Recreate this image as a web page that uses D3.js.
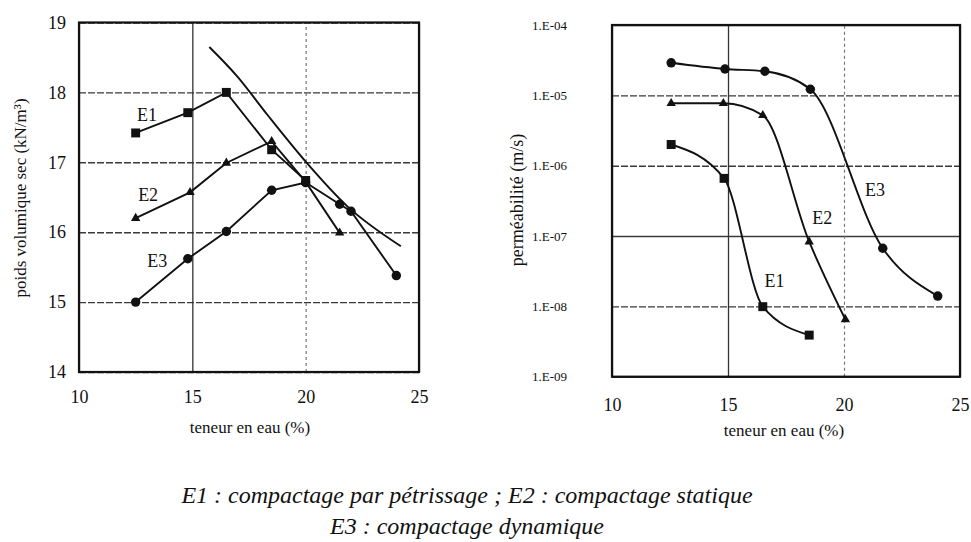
<!DOCTYPE html>
<html>
<head>
<meta charset="utf-8">
<script src="https://d3js.org/d3.v7.min.js"></script>
<style>
  body { margin: 0; background: #fff; }
  text { font-family: "Liberation Serif", "DejaVu Serif", serif; fill: #111; }
</style>
</head>
<body>
<svg id="chart" width="971" height="542"></svg>
<script>
// tick values
var waterTicks = [10, 15, 20, 25];
var densityTicks = [14, 15, 16, 17, 18, 19];
var permTicks = [1e-9, 1e-8, 1e-7, 1e-6, 1e-5, 1e-4];
var permLabels = ["1.E-09", "1.E-08", "1.E-07", "1.E-06", "1.E-05", "1.E-04"];
var seriesNames = ["E1", "E2", "E3"];

// left chart: poids volumique sec vs teneur en eau
var e1Water = [12.5, 14.8, 16.5, 18.5, 20.0];
var e1Density = [17.42, 17.71, 18.0, 17.18, 16.74];
var e2Water = [12.5, 14.9, 16.5, 18.5, 20.0, 21.5];
var e2Density = [16.2, 16.57, 16.99, 17.3, 16.72, 15.99];
var e3Water = [12.5, 14.8, 16.5, 18.5, 20.0, 21.5, 22.0, 24.0];
var e3Density = [15.0, 15.62, 16.01, 16.6, 16.71, 16.4, 16.3, 15.38];
var satWater = [15.75, 16.98, 18.31, 20.0, 21.84, 24.2];
var satDensity = [18.65, 18.23, 17.68, 17.01, 16.37, 15.8];

// right chart: permeabilite vs teneur en eau
var k1Water = [12.55, 14.83, 16.5, 18.5];
var k1Perm = [2.0e-6, 6.6e-7, 9.9e-9, 3.9e-9];
var k2Water = [12.55, 14.8, 16.5, 18.5, 20.06];
var k2Perm = [7.7e-6, 7.7e-6, 5.2e-6, 8.3e-8, 6.5e-9];
var k3Water = [12.55, 14.87, 16.59, 18.55, 21.67, 24.04];
var k3Perm = [2.9e-5, 2.37e-5, 2.2e-5, 1.22e-5, 6.7e-8, 1.4e-8];

var captionLines = [
  "E1 : compactage par pétrissage ; E2 : compactage statique",
  "E3 : compactage dynamique"
];

var svg = d3.select("#chart");
svg.append("rect").attr("width", 971).attr("height", 542).attr("fill", "#fff");

function zip(xs, ys) { return xs.map(function (x, i) { return [x, ys[i]]; }); }

var shapes = [d3.symbolSquare, d3.symbolTriangle, d3.symbolCircle];
var shapeSize = [80, 38, 70];

function drawPanel(opt) {
  var x = opt.x, y = opt.y;
  var g = svg.append("g");
  var x0 = x.range()[0], x1 = x.range()[1];
  var yb = y.range()[0], yt = y.range()[1];

  // horizontal grid
  g.append("g")
    .attr("transform", "translate(" + x0 + ",0)")
    .call(d3.axisLeft(y).tickValues(opt.yTicks).tickSize(-(x1 - x0)).tickFormat(""))
    .call(function (a) {
      a.select(".domain").remove();
      a.selectAll("line")
        .attr("stroke", "#3a3a3a")
        .attr("stroke-width", 1.4)
        .attr("stroke-dasharray", function (d, i) { return opt.hDash(d, i); });
    });

  // vertical grid
  g.append("g")
    .attr("transform", "translate(0," + yb + ")")
    .call(d3.axisBottom(x).tickValues(waterTicks).tickSize(-(yb - yt)).tickFormat(""))
    .call(function (a) {
      a.select(".domain").remove();
      a.selectAll("line")
        .attr("stroke", function (d) { return d == 20 ? "#777" : "#333"; })
        .attr("stroke-width", function (d) { return d == 20 ? 1.2 : 1.3; })
        .attr("stroke-dasharray", function (d) { return d == 20 ? "3,3" : null; });
    });

  // frame
  g.append("rect")
    .attr("x", x0).attr("y", yt)
    .attr("width", x1 - x0).attr("height", yb - yt)
    .attr("fill", "none").attr("stroke", "#111").attr("stroke-width", 2.2);

  // tick labels
  g.append("g")
    .attr("transform", "translate(" + (x0 - opt.yLabelGap) + ",0)")
    .call(d3.axisLeft(y).tickValues(opt.yTicks).tickSize(0).tickFormat(opt.yFormat))
    .call(function (a) {
      a.select(".domain").remove();
      a.selectAll("text")
        .style("font-size", opt.yFont + "px")
        .attr("fill", "#111");
    });

  g.append("g")
    .attr("transform", "translate(0," + (yb + opt.xLabelGap) + ")")
    .call(d3.axisBottom(x).tickValues(waterTicks).tickSize(0).tickFormat(d3.format("d")))
    .call(function (a) {
      a.select(".domain").remove();
      a.selectAll("text")
        .style("font-size", "18px")
        .attr("fill", "#111");
    });

  // axis titles
  g.append("text")
    .attr("transform", "translate(" + opt.yTitlePos[0] + "," + opt.yTitlePos[1] + ") rotate(-90)")
    .attr("text-anchor", "middle")
    .attr("dominant-baseline", "middle")
    .style("font-size", opt.yTitleFont + "px")
    .text(opt.yTitle);

  g.append("text")
    .attr("x", opt.xTitlePos[0]).attr("y", opt.xTitlePos[1])
    .attr("text-anchor", "middle")
    .attr("dominant-baseline", "middle")
    .style("font-size", "17px")
    .text("teneur en eau (%)");

  return g;
}

function drawSeries(g, x, y, pts, shapeIdx, curve) {
  var line = d3.line()
    .x(function (d) { return x(d[0]); })
    .y(function (d) { return y(d[1]); })
    .curve(curve);
  g.append("path")
    .datum(pts)
    .attr("d", line)
    .attr("fill", "none")
    .attr("stroke", "#111")
    .attr("stroke-width", 1.9);
  g.selectAll(null)
    .data(pts)
    .enter().append("path")
    .attr("transform", function (d) { return "translate(" + x(d[0]) + "," + y(d[1]) + ")"; })
    .attr("d", d3.symbol().type(shapes[shapeIdx]).size(shapeSize[shapeIdx]))
    .attr("fill", "#111");
}

// ---------- left panel ----------
var xL = d3.scaleLinear().domain([10, 25]).range([79, 419]);
var yL = d3.scaleLinear().domain([14, 19]).range([372, 22.5]);

var gL = drawPanel({
  x: xL, y: yL,
  yTicks: densityTicks,
  yFormat: d3.format("d"),
  yFont: 18,
  yLabelGap: 10,
  xLabelGap: 15,
  hDash: function () { return "7,2"; },
  yTitle: "poids volumique sec (kN/m³)",
  yTitleFont: 17,
  yTitlePos: [22, 198],
  xTitlePos: [250, 429]
});

gL.append("path")
  .datum(zip(satWater, satDensity))
  .attr("d", d3.line().x(function (d) { return xL(d[0]); }).y(function (d) { return yL(d[1]); }).curve(d3.curveMonotoneX))
  .attr("fill", "none").attr("stroke", "#111").attr("stroke-width", 1.9);

drawSeries(gL, xL, yL, zip(e1Water, e1Density), 0, d3.curveLinear);
drawSeries(gL, xL, yL, zip(e2Water, e2Density), 1, d3.curveLinear);
drawSeries(gL, xL, yL, zip(e3Water, e3Density), 2, d3.curveLinear);

var leftLabelAt = [[13.0, 17.65], [13.05, 16.5], [13.45, 15.56]];
gL.selectAll(null)
  .data(seriesNames)
  .enter().append("text")
  .attr("x", function (d, i) { return xL(leftLabelAt[i][0]); })
  .attr("y", function (d, i) { return yL(leftLabelAt[i][1]); })
  .attr("text-anchor", "middle")
  .attr("dominant-baseline", "middle")
  .style("font-size", "18px")
  .text(function (d) { return d; });

// ---------- right panel ----------
var xR = d3.scaleLinear().domain([10, 25]).range([612, 960]);
var yR = d3.scaleLog().domain([1e-9, 1e-4]).range([376.7, 25]);

var gR = drawPanel({
  x: xR, y: yR,
  yTicks: permTicks,
  yFormat: function (d, i) { return permLabels[i]; },
  yFont: 13,
  yLabelGap: 42,
  xLabelGap: 19,
  hDash: function (d) { return (d == 1e-7 || d == 1e-9 || d == 1e-4) ? null : "7,2"; },
  yTitle: "perméabilité (m/s)",
  yTitleFont: 18,
  yTitlePos: [519, 200],
  xTitlePos: [784, 432]
});

drawSeries(gR, xR, yR, zip(k1Water, k1Perm), 0, d3.curveMonotoneX);
drawSeries(gR, xR, yR, zip(k2Water, k2Perm), 1, d3.curveMonotoneX);
drawSeries(gR, xR, yR, zip(k3Water, k3Perm), 2, d3.curveMonotoneX);

var rightLabelAt = [[17.0, 2.15e-8], [19.06, 1.7e-7], [21.34, 4.2e-7]];
gR.selectAll(null)
  .data(seriesNames)
  .enter().append("text")
  .attr("x", function (d, i) { return xR(rightLabelAt[i][0]); })
  .attr("y", function (d, i) { return yR(rightLabelAt[i][1]); })
  .attr("text-anchor", "middle")
  .attr("dominant-baseline", "middle")
  .style("font-size", "18px")
  .text(function (d) { return d; });

// ---------- caption ----------
svg.selectAll(".caption")
  .data(captionLines)
  .enter().append("text")
  .attr("class", "caption")
  .attr("x", 467)
  .attr("y", function (d, i) { return 497 + i * 31; })
  .attr("text-anchor", "middle")
  .attr("dominant-baseline", "middle")
  .style("font-style", "italic")
  .style("font-size", "24px")
  .text(function (d) { return d; });
</script>
</body>
</html>
